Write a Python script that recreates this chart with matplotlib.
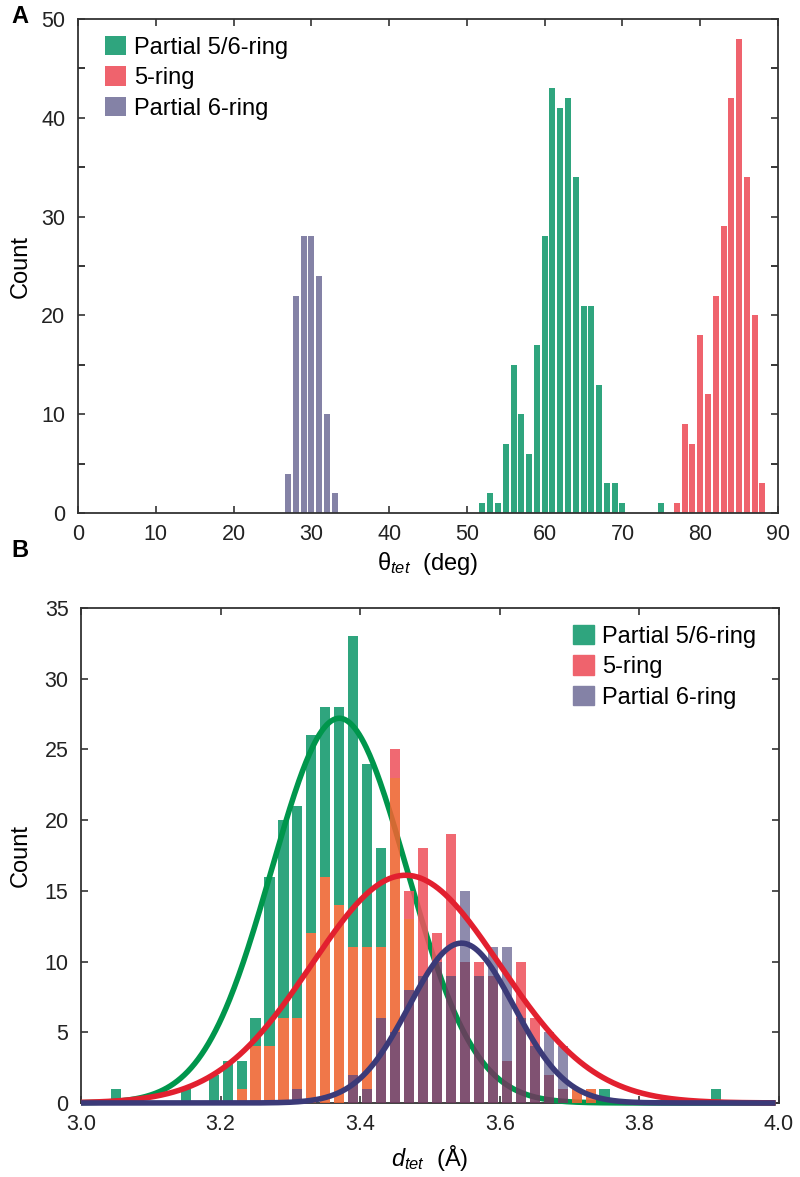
import numpy as np
import matplotlib
matplotlib.use("Agg")
import matplotlib.pyplot as plt
from matplotlib.patches import Patch

plt.rcParams['font.family'] = ['Liberation Sans', 'DejaVu Sans']
plt.rcParams['mathtext.fontset'] = 'custom'
plt.rcParams['mathtext.rm'] = 'Liberation Sans'
plt.rcParams['mathtext.it'] = 'Liberation Sans:italic'

# ---------------- Panel A data (theta_tet, 1-degree bins) ----------------
a56_deg = [52, 53, 54, 55, 56, 57, 58, 59, 60, 61, 62, 63, 64, 65, 66, 67, 68, 69, 70, 75]
a56_cnt = [1, 2, 1, 7, 15, 10, 6, 17, 28, 43, 41, 42, 34, 21, 21, 13, 3, 3, 1, 1]
a5_deg = [77, 78, 79, 80, 81, 82, 83, 84, 85, 86, 87, 88]
a5_cnt = [1, 9, 7, 18, 12, 22, 29, 42, 48, 34, 20, 3]
a6_deg = [27, 28, 29, 30, 31, 32, 33]
a6_cnt = [4, 22, 28, 28, 24, 10, 2]

# ---------------- Panel B data (d_tet, 0.02 A bins, centres) ----------------
b_centers = [round(3.01 + 0.02 * k, 2) for k in range(50)]
b56 = {3.05: 1, 3.15: 1, 3.19: 2, 3.21: 3, 3.23: 3, 3.25: 6, 3.27: 16, 3.29: 20,
       3.31: 21, 3.33: 26, 3.35: 28, 3.37: 28, 3.39: 33, 3.41: 24, 3.43: 18,
       3.45: 23, 3.47: 13, 3.49: 9, 3.51: 7, 3.53: 5, 3.55: 4, 3.57: 3, 3.59: 3,
       3.61: 2, 3.63: 2, 3.65: 1, 3.67: 1, 3.69: 1, 3.71: 1, 3.73: 1, 3.75: 1,
       3.91: 1}
b5 = {3.23: 1, 3.25: 4, 3.27: 4, 3.29: 6, 3.31: 6, 3.33: 12, 3.35: 16, 3.37: 14,
      3.39: 11, 3.41: 11, 3.43: 11, 3.45: 25, 3.47: 15, 3.49: 18, 3.51: 12,
      3.53: 19, 3.55: 10, 3.57: 10, 3.59: 9, 3.61: 3, 3.63: 10, 3.65: 6,
      3.67: 2, 3.69: 1, 3.71: 1, 3.73: 1}
b6 = {3.31: 1, 3.39: 2, 3.41: 1, 3.43: 6, 3.45: 5, 3.47: 8, 3.49: 9, 3.51: 10,
      3.53: 9, 3.55: 15, 3.57: 9, 3.59: 11, 3.61: 11, 3.63: 6, 3.65: 4,
      3.67: 5, 3.69: 4}
# Gaussian fits (peak height, mean, sigma)
fit_peak = [27.2, 16.1, 11.3]
fit_mean = [3.370, 3.465, 3.545]
fit_sigma = [0.097, 0.135, 0.075]

labels = ['Partial 5/6-ring', '5-ring', 'Partial 6-ring']

# colours
C_GREEN = '#2fa57e'
C_PINK = '#ef636d'
C_PURPLE_A = '#8482a6'
C_PINK_B = '#ee545e'
C_ORANGE = '#ef6430'
C_LAV = '#7e7ba2'
C_MAROON = '#6e3a5e'
CURVE_COLORS = ['#00964c', '#e2202f', '#3b3a78']

TICK_FS = 15.5
LAB_FS = 17
LEG_FS = 17

fig = plt.figure(figsize=(8, 11.77), dpi=100)

# ---------------- Panel A ----------------
axA = fig.add_axes([0.0975, 0.5641, 0.875, 0.4198])
w = 0.78
axA.bar(a56_deg, a56_cnt, width=w, color=C_GREEN, label=labels[0], zorder=2)
axA.bar(a5_deg, a5_cnt, width=w, color=C_PINK, label=labels[1], zorder=2)
axA.bar(a6_deg, a6_cnt, width=w, color=C_PURPLE_A, label=labels[2], zorder=2)
axA.set_xlim(0, 90)
axA.set_ylim(0, 50)
axA.set_xticks(np.arange(0, 91, 10))
axA.set_yticks(np.arange(0, 51, 10))
axA.set_yticks(np.arange(5, 50, 10), minor=True)
axA.set_xlabel(r'$\mathrm{\theta}_{tet}$  (deg)', fontsize=LAB_FS)
axA.set_ylabel('Count', fontsize=LAB_FS)
axA.xaxis.set_label_coords(0.5, -0.074)
axA.yaxis.set_label_coords(-0.066, 0.5)
leg_kw = dict(frameon=False, fontsize=LEG_FS, handlelength=0.9, handleheight=0.9,
              handletextpad=0.32, labelspacing=0.32, borderpad=0, borderaxespad=0)
axA.legend(loc='upper left', bbox_to_anchor=(0.0386, 0.966), **leg_kw)
fig.text(0.0145, 0.986, 'A', fontsize=17, fontweight='bold', va='center', ha='left')

# ---------------- Panel B ----------------
axB = fig.add_axes([0.1013, 0.0629, 0.8725, 0.4206])
bw = 0.0145
groups = {}
for c in b_centers:
    g = b56.get(c, 0)
    r = b5.get(c, 0)
    p = b6.get(c, 0)
    bounds = sorted(set([0, g, r, p]))
    for lo, hi in zip(bounds[:-1], bounds[1:]):
        mid = 0.5 * (lo + hi)
        ing, inr, inp = mid < g, mid < r, mid < p
        if inp:
            col = C_MAROON if (inr or ing) else C_LAV
        elif inr:
            col = C_ORANGE if ing else C_PINK_B
        else:
            col = C_GREEN
        groups.setdefault(col, ([], [], []))
        groups[col][0].append(c)
        groups[col][1].append(hi - lo)
        groups[col][2].append(lo)

for col, (xs, hs, bs) in groups.items():
    if col == C_GREEN:
        axB.bar(xs, hs, bottom=bs, width=bw, color=col, zorder=2, linewidth=0)
    else:
        axB.bar(xs, hs, bottom=bs, width=bw, color=col, alpha=0.88, zorder=4,
                linewidth=0)

xx = np.linspace(3.0, 3.995, 600)
zs = [3, 5, 6]
for pk, mu, sg, cc, z in zip(fit_peak, fit_mean, fit_sigma, CURVE_COLORS, zs):
    axB.plot(xx, pk * np.exp(-0.5 * ((xx - mu) / sg) ** 2), color=cc, lw=4,
             zorder=z, solid_capstyle='butt', clip_on=False)

axB.set_xlim(3.0, 4.0)
axB.set_ylim(0, 35)
axB.set_xticks(np.arange(3.0, 4.01, 0.2))
axB.set_xticklabels(['3.0', '3.2', '3.4', '3.6', '3.8', '4.0'])
axB.set_yticks(np.arange(0, 36, 5))
axB.set_xlabel(r'$d_{tet}$  (Å)', fontsize=LAB_FS)
axB.set_ylabel('Count', fontsize=LAB_FS)
axB.xaxis.set_label_coords(0.5, -0.08)
axB.yaxis.set_label_coords(-0.071, 0.5)
handles = [Patch(color=C_GREEN), Patch(color=C_PINK), Patch(color=C_PURPLE_A)]
axB.legend(handles, labels, loc='upper left', bbox_to_anchor=(0.705, 0.966),
           **leg_kw)
fig.text(0.0145, 0.5325, 'B', fontsize=17, fontweight='bold', va='center', ha='left')

for ax in (axA, axB):
    ax.tick_params(direction='in', length=5, width=1.1, labelsize=TICK_FS,
                   top=True, right=True, colors='#222222')
    ax.tick_params(axis='y', pad=9)
    ax.tick_params(axis='x', pad=8)
    ax.tick_params(which='minor', direction='in', length=5, width=1.1,
                   right=True)
    for s in ax.spines.values():
        s.set_linewidth(1.3)
        s.set_color('#333333')

fig.savefig('out.png', dpi=100, facecolor='white')
